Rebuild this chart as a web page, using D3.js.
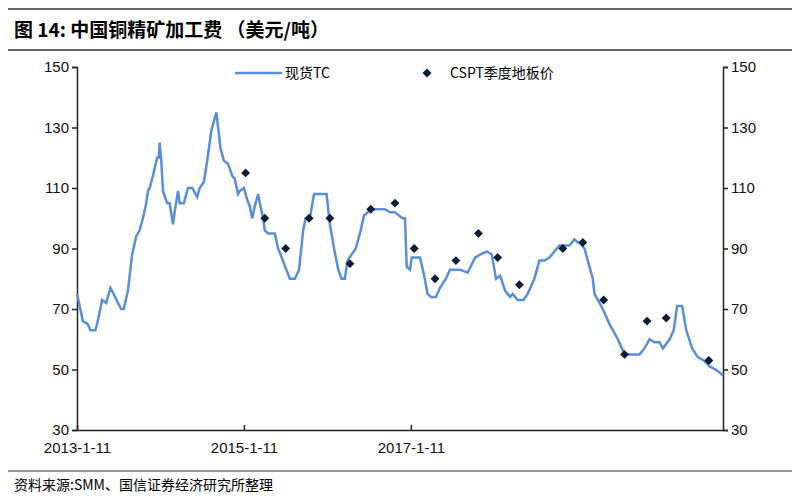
<!DOCTYPE html>
<html><head><meta charset="utf-8">
<script src="https://d3js.org/d3.v7.min.js"></script>
<style>body{margin:0;background:#fff}text{font-family:"Liberation Sans",Arial,sans-serif}</style>
</head><body><div id="chart"></div>
<script>
// 现货TC (year fraction, USD/t)
var tcYears = [2013.03,2013.07,2013.10,2013.16,2013.19,2013.25,2013.27,2013.31,2013.33,2013.38,2013.43,2013.47,2013.52,2013.56,2013.59,2013.64,2013.69,2013.74,2013.78,2013.82,2013.86,2013.88,2013.90,2013.94,2013.99,2014.01,2014.02,2014.04,2014.06,2014.11,2014.14,2014.18,2014.20,2014.24,2014.26,2014.31,2014.36,2014.41,2014.47,2014.50,2014.55,2014.59,2014.64,2014.70,2014.75,2014.79,2014.84,2014.89,2014.92,2014.96,2014.98,2015.03,2015.07,2015.10,2015.13,2015.16,2015.20,2015.22,2015.26,2015.28,2015.32,2015.37,2015.40,2015.44,2015.47,2015.51,2015.58,2015.64,2015.69,2015.74,2015.77,2015.82,2015.87,2016.02,2016.06,2016.11,2016.16,2016.20,2016.24,2016.27,2016.32,2016.37,2016.42,2016.47,2016.56,2016.72,2016.78,2016.84,2016.93,2016.96,2016.98,2017.02,2017.04,2017.08,2017.14,2017.19,2017.23,2017.27,2017.33,2017.38,2017.45,2017.50,2017.54,2017.62,2017.71,2017.80,2017.86,2017.94,2018.00,2018.05,2018.10,2018.16,2018.22,2018.25,2018.31,2018.38,2018.43,2018.51,2018.57,2018.63,2018.69,2018.75,2018.81,2018.87,2018.93,2018.99,2019.03,2019.05,2019.11,2019.17,2019.21,2019.23,2019.27,2019.33,2019.41,2019.51,2019.59,2019.68,2019.77,2019.83,2019.89,2019.95,2020.01,2020.05,2020.13,2020.18,2020.22,2020.28,2020.33,2020.40,2020.47,2020.54,2020.61,2020.68,2020.73,2020.77];
var tcValues = [75,70,66,65,63,63,65,70,73,72,77,75,72,70,70,76,88,94,96,100,105,109,110,114,120,120,125,119,109,105,105,98,102,109,105,105,110,110,107,110,112,119,129,135,123,119,118,114,113,108,109,110,106,104,100,104,108,105,100,96,95,95,95,90,88,85,80,80,83,96,100,100,108,108,98,90,83,80,80,86,88,90,95,101,103,103,102,102,100,100,84,83,87,87,87,81,75,74,74,77,80,83,83,83,82,87,88,89,88,80,81,76,74,75,73,73,75,80,86,86,87,89,91,91,91,93,92,92,90,84,80,75,73,70,65,60,55,55,55,57,60,59,59,57,60,63,71,71,63,57,54,53,51,50,49,48];
// CSPT季度地板价
var csptYears = [2015.05,2015.28,2015.53,2015.81,2016.06,2016.30,2016.55,2016.84,2017.07,2017.32,2017.57,2017.84,2018.07,2018.33,2018.85,2019.09,2019.34,2019.59,2019.86,2020.09,2020.60];
var csptValues = [115,100,90,100,100,85,103,105,90,80,86,95,87,78,90,92,73,55,66,67,53];
var yTicks = [30,50,70,90,110,130,150];
var xTickYears = [2013.03,2015.03,2017.03];
var xTickLabels = ["2013-1-11","2015-1-11","2017-1-11"];

var W = 800, H = 500, L = 77, R = 723, T = 67, B = 430;
var svg = d3.select("#chart").append("svg").attr("width", W).attr("height", H);
var x = d3.scaleLinear().domain([2013.03, 2020.77]).range([L, R]);
var y = d3.scaleLinear().domain([30, 150]).range([B, T]);

svg.append("line").attr("x1",8).attr("x2",792).attr("y1",9).attr("y2",9).attr("stroke","#333").attr("stroke-width",1.5);
svg.append("line").attr("x1",8).attr("x2",792).attr("y1",50).attr("y2",50).attr("stroke","#333").attr("stroke-width",1.5);
svg.append("line").attr("x1",8).attr("x2",792).attr("y1",471).attr("y2",471).attr("stroke","#333").attr("stroke-width",1);
svg.append("text").attr("x",14).attr("y",37).attr("font-size",19).attr("font-weight","bold")
  .style("font-family","'Noto Sans CJK SC',sans-serif").text("图 14:  中国铜精矿加工费 （美元/吨）");
svg.append("text").attr("x",14).attr("y",490).attr("font-size",14)
  .style("font-family","'Noto Sans CJK SC',sans-serif").text("资料来源:SMM、国信证券经济研究所整理");

function styleAxis(g){
  g.selectAll("path,line").attr("stroke","#222").attr("stroke-width",1.5);
  g.selectAll("text").attr("font-size",15).attr("fill","#111").style("font-family","'Liberation Sans',Arial");
}
svg.append("g").attr("transform","translate("+L+",0)")
  .call(d3.axisLeft(y).tickValues(yTicks).tickSize(5).tickSizeOuter(5)).call(styleAxis);
svg.append("g").attr("transform","translate("+R+",0)")
  .call(d3.axisRight(y).tickValues(yTicks).tickSize(5).tickSizeOuter(5)).call(styleAxis);
svg.append("g").attr("transform","translate(0,"+B+")")
  .call(d3.axisBottom(x).tickValues(xTickYears).tickFormat(function(d,i){return xTickLabels[i];}).tickSize(-5).tickSizeOuter(0).tickPadding(12))
  .call(styleAxis);

var tc = tcYears.map(function(d,i){return [d, tcValues[i]];});
svg.append("path").datum(tc).attr("fill","none").attr("stroke","#5a8fd8").attr("stroke-width",2.5)
  .attr("d", d3.line().x(function(d){return x(d[0]);}).y(function(d){return y(d[1]);}));

var diamond = d3.symbol().type(d3.symbolSquare).size(40);
svg.selectAll(".pt").data(csptYears).enter().append("path").attr("class","pt")
  .attr("transform",function(d,i){return "translate("+x(d)+","+y(csptValues[i])+") rotate(45)";})
  .attr("d",diamond).attr("fill","#0e1c36");

// legend
svg.append("line").attr("x1",235).attr("x2",282).attr("y1",73).attr("y2",73).attr("stroke","#5a8fd8").attr("stroke-width",2.5);
svg.append("text").attr("x",285).attr("y",78).attr("font-size",14).style("font-family","'Noto Sans CJK SC',sans-serif").text("现货TC");
svg.append("path").attr("transform","translate(427,73) rotate(45)").attr("d",diamond).attr("fill","#0e1c36");
svg.append("text").attr("x",450).attr("y",78).attr("font-size",14).style("font-family","'Noto Sans CJK SC',sans-serif").text("CSPT季度地板价");
</script></body></html>
